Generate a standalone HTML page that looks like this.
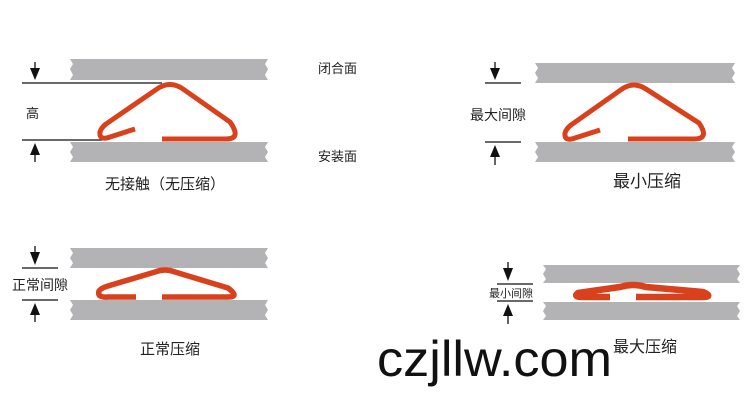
<!DOCTYPE html>
<html><head><meta charset="utf-8"><style>
html,body{margin:0;padding:0;background:#fff;}
svg{display:block;}
text{font-family:"Liberation Sans","Noto Sans CJK SC",sans-serif;fill:#222;}
</style></head><body>
<svg width="750" height="406" viewBox="0 0 750 406" xmlns="http://www.w3.org/2000/svg">
<g fill="#b3b3b5">
<polygon points="70,59 268,59 265,64 268,69 265,75 268,80 70,80 73,75 70,69 73,64"/>
<polygon points="70,142 268,142 265,147 268,152 265,157 268,162 70,162 73,157 70,152 73,147"/>
<polygon points="535,63 735,63 732,68 735,73 732,78 735,83 535,83 538,78 535,73 538,68"/>
<polygon points="535,142 735,142 732,147 735,152 732,157 735,162 535,162 538,157 535,152 538,147"/>
<polygon points="70,248 268,248 265,253 268,258 265,263 268,268 70,268 73,263 70,258 73,253"/>
<polygon points="70,300 268,300 265,305 268,310 265,315 268,320 70,320 73,315 70,310 73,305"/>
<polygon points="543,265 740,265 737,269 740,274 737,279 740,283 543,283 546,279 543,274 546,269"/>
<polygon points="543,302 740,302 737,306 740,311 737,316 740,320 543,320 546,316 543,311 546,306"/>
</g>
<g stroke="#111" stroke-width="1.3">
<line x1="22" y1="83" x2="162" y2="83"/>
<line x1="22" y1="140" x2="102" y2="140"/>
<line x1="35" y1="62" x2="35" y2="70"/><line x1="35" y1="152" x2="35" y2="162"/>
<line x1="485" y1="83" x2="521" y2="83"/>
<line x1="485" y1="142" x2="521" y2="142"/>
<line x1="495" y1="62" x2="495" y2="70"/><line x1="495" y1="153" x2="495" y2="165"/>
<line x1="22" y1="268" x2="58" y2="268"/>
<line x1="22" y1="300" x2="58" y2="300"/>
<line x1="35" y1="246" x2="35" y2="254"/><line x1="35" y1="312" x2="35" y2="322"/>
<line x1="497" y1="284" x2="533" y2="284"/>
<line x1="497" y1="301" x2="533" y2="301"/>
<line x1="508" y1="262" x2="508" y2="270"/><line x1="508" y1="312" x2="508" y2="324"/>
</g>
<g fill="#111">
<polygon points="30,68 40,68 35,80"/><polygon points="30,155 40,155 35,143"/>
<polygon points="490,68 500,68 495,80"/><polygon points="490,157 500,157 495,145"/>
<polygon points="30,252 40,252 35,265"/><polygon points="30,315 40,315 35,303"/>
<polygon points="503,268 513,268 508,281"/><polygon points="503,316 513,316 508,304"/>
</g>
<g fill="none" stroke="#d9401c" stroke-width="5" stroke-linejoin="round">
<path d="M135,129 L110,137 Q99,141 100,132 Q101,128 106,124 L157,89 Q170,80 183,89 L230,122 Q242,139 226,139 L162,139"/>
<path d="M600,130 L575,138 Q564,142 565,133 Q566,129 571,125 L622,89 Q634,81 646,89 L699,123 Q710,139 694,139 L628,139"/>
<path d="M136,297 L108,297 Q97,298 99,291 Q101,288 108,286 L155,272 Q165,268 175,272 L228,288 Q240,297 228,297 L162,297" stroke-width="5.5"/>
<path d="M610,297 L582,297 Q573,297 578,293 L620,287 Q633,283 646,287 L703,292 Q714,297 702,297 L636,297" stroke-width="6.5"/>
</g>
<text x="26" y="118" font-size="13">高</text>
<text x="318" y="73" font-size="13">闭合面</text>
<text x="318" y="161" font-size="13">安装面</text>
<text x="165" y="189" font-size="15" text-anchor="middle">无接触（无压缩）</text>
<text x="470" y="120" font-size="14">最大间隙</text>
<text x="647" y="187" font-size="17" text-anchor="middle">最小压缩</text>
<text x="12" y="290" font-size="14">正常间隙</text>
<text x="170" y="354" font-size="15" text-anchor="middle">正常压缩</text>
<text x="489" y="297" font-size="11">最小间隙</text>
<text x="645" y="352" font-size="16" text-anchor="middle">最大压缩</text>
<text x="377" y="376" font-size="50" textLength="235" lengthAdjust="spacingAndGlyphs" style="fill:#111">czjllw.com</text>
</svg>
</body></html>
